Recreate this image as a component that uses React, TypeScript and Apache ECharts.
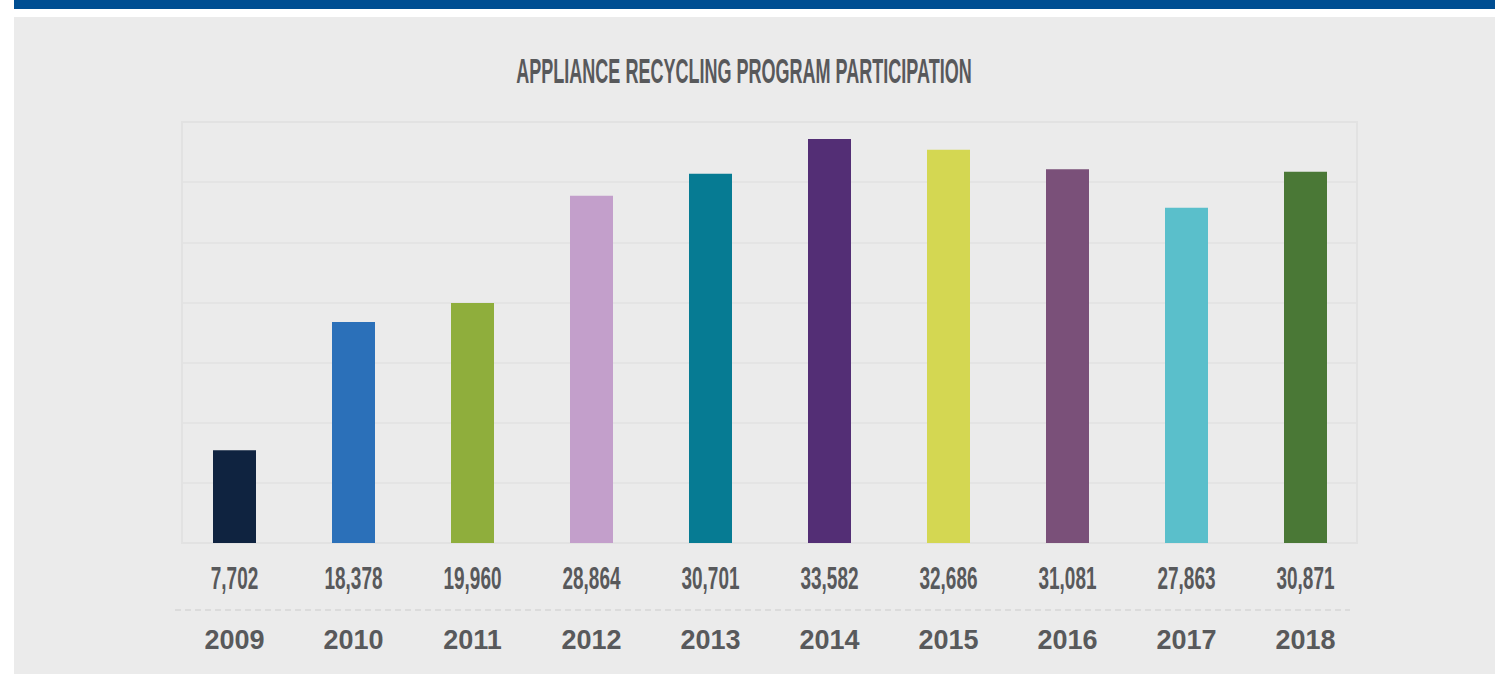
import React, { useEffect, useRef } from "react";
import * as echarts from "echarts";

const categories = ["2009", "2010", "2011", "2012", "2013", "2014", "2015", "2016", "2017", "2018"];
const participation = [7702, 18378, 19960, 28864, 30701, 33582, 32686, 31081, 27863, 30871];
const barColors = ["#0f2340", "#2b70b9", "#8fae3c", "#c39fcb", "#067b93", "#532e75", "#d4d752", "#7a5079", "#5abfcb", "#4a7836"];
const axisMax = 35000;
const axisInterval = 5000;
const titleText = "APPLIANCE RECYCLING PROGRAM PARTICIPATION";

const fmt = (v: number) => v.toLocaleString("en-US");

function measure(text: string, font: string): number {
  const c = document.createElement("canvas").getContext("2d");
  if (!c) return text.length * 10;
  c.font = font;
  return c.measureText(text).width;
}

export default function App() {
  const ref = useRef<HTMLDivElement>(null);
  useEffect(() => {
    if (!ref.current) return;
    const chart = echarts.init(ref.current, undefined, { renderer: "svg" });
    const textColor = "#58595b";
    const titleFont = 'bold 35px "Liberation Sans"';
    const titleScale = 456 / measure(titleText, titleFont);
    const valueFont = 'bold 31px "Liberation Sans"';
    const valueScale = 58 / measure("28,864", valueFont);

    const bgElements: any[] = [
      { type: "rect", z: -10, silent: true, shape: { x: 14, y: 0, width: 1481, height: 9 }, style: { fill: "#004e92" } },
      { type: "rect", z: -10, silent: true, shape: { x: 14, y: 17, width: 1481, height: 657 }, style: { fill: "#ebebeb" } },
      {
        type: "text", x: 744, y: 71, scaleX: titleScale, silent: true,
        style: { text: titleText, fontSize: 35, fontWeight: "bold", fontFamily: "Liberation Sans", fill: textColor, textAlign: "center", textVerticalAlign: "middle" },
      },
      {
        type: "line", silent: true, shape: { x1: 175, y1: 610, x2: 1350, y2: 610 },
        style: { stroke: "#d6d6d6", lineWidth: 1.5, lineDash: [6, 4] },
      },
    ];

    const base: any = {
      animation: false,
      backgroundColor: "#ffffff",
      grid: [
        { left: 182, top: 122, width: 1175, height: 421, show: true, borderColor: "#e2e2e2", borderWidth: 2, backgroundColor: "transparent" },
        { left: 175, top: 122, width: 1190, height: 421 },
      ],
      xAxis: [
        { type: "category", gridIndex: 0, data: categories, show: false },
        {
          type: "category", gridIndex: 1, data: categories,
          axisLine: { show: false }, axisTick: { show: false }, splitLine: { show: false },
          axisLabel: { color: textColor, fontSize: 27, fontWeight: "bold", fontFamily: "Liberation Sans", margin: 97, verticalAlign: "middle" },
        },
      ],
      yAxis: [
        {
          type: "value", gridIndex: 0, min: 0, max: axisMax, interval: axisInterval,
          axisLabel: { show: false }, axisLine: { show: false }, axisTick: { show: false },
          splitLine: { show: true, lineStyle: { color: "#e2e2e2", width: 1.5 } },
        },
        { type: "value", gridIndex: 1, min: 0, max: axisMax, interval: axisInterval, show: false, splitLine: { show: false } },
      ],
      series: [
        {
          type: "bar", xAxisIndex: 1, yAxisIndex: 1, barWidth: 43,
          data: participation.map((v, i) => ({ value: v, itemStyle: { color: barColors[i] } })),
        },
      ],
      graphic: { elements: bgElements },
    };
    chart.setOption(base);

    const labels = categories.map((c, i) => {
      const x = chart.convertToPixel({ xAxisIndex: 1 }, c) as number;
      return {
        type: "text", x, y: 578, scaleX: valueScale, silent: true,
        style: { text: fmt(participation[i]), fontSize: 31, fontWeight: "bold", fontFamily: "Liberation Sans", fill: textColor, textAlign: "center", textVerticalAlign: "middle" },
      };
    });
    chart.setOption({ ...base, graphic: { elements: [...bgElements, ...labels] } }, { notMerge: true });

    return () => chart.dispose();
  }, []);
  return <div ref={ref} style={{ position: "absolute", left: 0, top: 0, width: 1508, height: 674 }} />;
}
